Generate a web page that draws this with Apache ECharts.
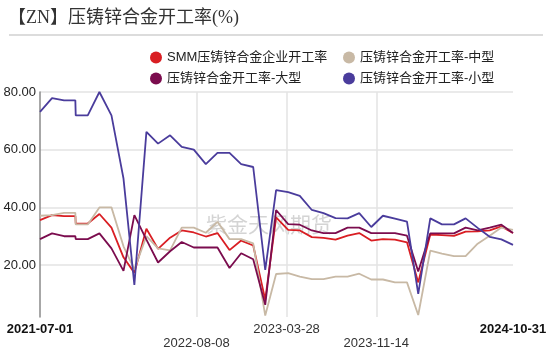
<!DOCTYPE html>
<html>
<head>
<meta charset="utf-8">
<script src="https://cdn.jsdelivr.net/npm/echarts@6/dist/echarts.min.js"></script>
<style>
  html, body { margin: 0; padding: 0; background: #fff; }
  #main { width: 550px; height: 351px; }
</style>
</head>
<body>
<div id="main"></div>
<script>
// 压铸锌合金开工率
var dates = ['2021-07-01', '2021-08-01', '2021-09-01', '2021-09-30', '2021-10-01', '2021-11-01', '2021-12-01',
  '2022-01-01', '2022-02-01', '2022-03-01', '2022-04-01', '2022-05-01', '2022-06-01', '2022-07-01', '2022-08-01',
  '2022-09-01', '2022-10-01', '2022-11-01', '2022-12-01', '2023-01-01', '2023-02-01', '2023-03-01', '2023-04-01',
  '2023-05-01', '2023-06-01', '2023-07-01', '2023-08-01', '2023-09-01', '2023-10-01', '2023-11-01', '2023-12-01',
  '2024-01-01', '2024-02-01', '2024-03-01', '2024-04-01', '2024-05-01', '2024-06-01', '2024-07-01', '2024-08-01',
  '2024-09-01', '2024-10-01', '2024-10-31'];

var smm = [35.6, 37.3, 37.0, 37.0, 34.4, 34.4, 37.7, 33.0, 22.7, 17.3, 32.6, 25.6, 29.5, 32.0, 31.3, 29.9, 31.1,
  25.2, 28.5, 26.8, 8.0, 36.5, 32.2, 32.0, 29.7, 29.4, 28.8, 30.2, 31.1, 28.5, 29.0, 28.8, 27.9, 14.0, 30.6, 30.4,
  30.1, 31.6, 31.7, 32.0, 33.4, 31.1];
var mid = [37.1, 37.3, 38.1, 38.1, 34.1, 34.1, 40.0, 40.0, 26.5, 18.5, 30.0, 25.8, 25.1, 33.0, 33.0, 31.2, 35.0,
  29.0, 29.0, 27.5, 2.5, 16.9, 17.2, 16.0, 15.1, 15.1, 16.0, 16.0, 17.0, 15.0, 15.0, 14.0, 14.0, 2.7, 25.0, 24.0,
  23.1, 23.1, 27.4, 30.2, 33.0, 32.2];
var big = [29.0, 31.0, 30.0, 30.0, 29.0, 29.0, 31.0, 25.8, 18.0, 37.3, 28.8, 20.9, 24.8, 28.0, 26.1, 26.1, 26.1,
  19.0, 24.1, 22.0, 6.2, 39.1, 34.2, 34.0, 32.0, 31.1, 31.1, 33.0, 33.0, 31.1, 31.1, 31.1, 30.2, 17.8, 31.0, 31.0,
  31.0, 33.0, 32.0, 33.0, 34.0, 31.1];
var small = [73.1, 77.9, 77.1, 77.1, 71.9, 71.9, 80.0, 71.9, 50.0, 13.1, 66.2, 62.1, 65.0, 61.0, 60.0, 55.0, 58.9,
  58.9, 55.0, 54.0, 18.3, 46.0, 45.3, 44.0, 39.1, 38.0, 36.3, 36.2, 38.0, 33.2, 37.1, 36.1, 35.1, 10.0, 36.2, 34.1,
  34.1, 36.2, 32.9, 29.8, 28.9, 27.0];

var names = ['SMM压铸锌合金企业开工率', '压铸锌合金开工率-中型', '压铸锌合金开工率-大型', '压铸锌合金开工率-小型'];
var colors = ['#d91e23', '#c8b9a5', '#7b0c4e', '#4a3c9c'];

var xLabels = ['2021-07-01', '2022-08-08', '2023-03-28', '2023-11-14', '2024-10-31'];
var xGrid = ['2022-08-08', '2023-03-28', '2023-11-14'];
var lowLabels = ['2022-08-08', '2023-11-14'];
var yTicks = [20, 40, 60, 80];

function toTime(s) {
  return new Date(s.replace(/-/g, '/')).getTime();
}
function pad(n) {
  return n < 10 ? '0' + n : '' + n;
}
function fmtDate(v) {
  var d = new Date(v);
  return d.getFullYear() + '-' + pad(d.getMonth() + 1) + '-' + pad(d.getDate());
}
function pairs(vals) {
  return vals.map(function (v, i) { return [toTime(dates[i]), v]; });
}

var chart = echarts.init(document.getElementById('main'));
var option = {
  animation: false,
  textStyle: { fontFamily: 'Liberation Sans, Arial, Noto Sans CJK SC, sans-serif' },
  grid: { left: 40, right: 37, top: 92, bottom: 34, outerBoundsMode: 'none' },
  legend: [
    {
      orient: 'vertical', left: 145, top: 46, itemGap: 8,
      icon: 'circle', itemWidth: 12, itemHeight: 12,
      textStyle: { fontSize: 13, color: '#222' },
      data: [names[0], names[2]]
    },
    {
      orient: 'vertical', left: 338, top: 46, itemGap: 8,
      icon: 'circle', itemWidth: 12, itemHeight: 12,
      textStyle: { fontSize: 13, color: '#222' },
      data: [names[1], names[3]]
    }
  ],
  graphic: [
    {
      type: 'text', left: 8, top: 9,
      style: {
        text: '【ZN】压铸锌合金开工率(%)',
        font: '18px "Liberation Serif", "Noto Sans CJK SC", serif',
        fill: '#333'
      }
    },
    {
      type: 'line', shape: { x1: 9, y1: 35, x2: 543, y2: 35 },
      style: { stroke: '#dcdcdc', lineWidth: 2 }
    },
    {
      type: 'text', left: 206, top: 214, z: 0,
      style: {
        text: '紫金天风期货',
        font: '21px "Noto Sans CJK SC", sans-serif',
        fill: 'rgba(160,160,160,0.45)'
      }
    }
  ],
  xAxis: {
    type: 'value',
    min: toTime('2021-07-01'),
    max: toTime('2024-10-31'),
    axisLine: { show: false },
    axisTick: { show: false, customValues: xGrid.map(toTime) },
    splitLine: { show: true, lineStyle: { color: '#e3e3e3', width: 1.5 } },
    axisLabel: {
      customValues: xLabels.map(toTime),
      margin: 5,
      fontSize: 13,
      lineHeight: 14,
      color: '#333',
      hideOverlap: false,
      formatter: function (v) {
        var s = fmtDate(v);
        if (s === xLabels[0] || s === xLabels[xLabels.length - 1]) return '{b|' + s + '}';
        if (lowLabels.indexOf(s) >= 0) return '\n' + s;
        return s;
      },
      rich: {
        b: { fontWeight: 'bold', fontSize: 13, color: '#111' }
      }
    }
  },
  yAxis: {
    type: 'value',
    min: 2,
    max: 80,
    axisLine: { show: true, lineStyle: { color: '#8a8a8a', width: 1.5 } },
    axisTick: { show: false, customValues: yTicks },
    splitLine: { show: true, lineStyle: { color: '#e3e3e3', width: 1.5 } },
    axisLabel: {
      customValues: yTicks,
      margin: 4,
      fontSize: 13,
      color: '#222',
      formatter: function (v) { return v.toFixed(2); }
    }
  },
  series: [
    { name: names[0], type: 'line', data: pairs(smm) },
    { name: names[1], type: 'line', data: pairs(mid) },
    { name: names[2], type: 'line', data: pairs(big) },
    { name: names[3], type: 'line', data: pairs(small) }
  ].map(function (s, i) {
    s.showSymbol = false;
    s.symbol = 'none';
    s.color = colors[i];
    s.lineStyle = { width: 1.8, color: colors[i] };
    return s;
  })
};
chart.setOption(option);
</script>
</body>
</html>
